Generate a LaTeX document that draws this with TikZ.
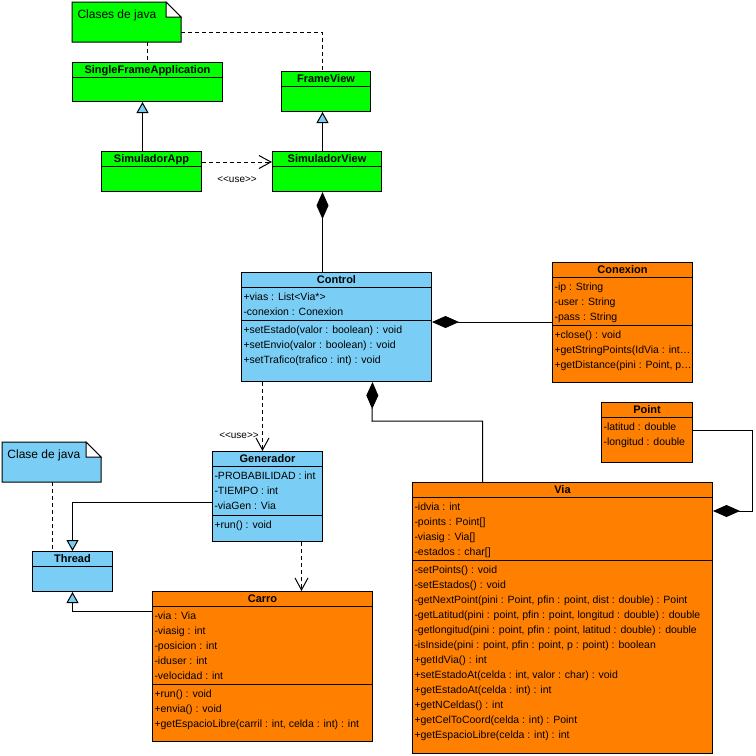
\documentclass[tikz,border=0pt]{standalone}
\usepackage{fontspec}
\setmainfont{Liberation Sans}
\usetikzlibrary{calc,positioning,arrows.meta}

\definecolor{umlgreen}{RGB}{0,255,0}
\definecolor{umlblue}{RGB}{122,206,245}
\definecolor{umlorange}{RGB}{255,128,0}

\tikzset{
  classbox/.style={draw, rectangle, anchor=north west, inner sep=0pt},
  classtitle/.style={font=\fontsize{11}{13}\selectfont\bfseries, inner sep=0pt, text height=8pt, text depth=0pt},
  members/.style={font=\fontsize{10.5}{15}\selectfont, align=left, anchor=north west, inner sep=0pt},
  notebox/.style={rectangle, anchor=north west, inner sep=0pt},
  notetext/.style={font=\fontsize{12}{14}\selectfont, anchor=west, inner sep=0pt},
  stereo/.style={font=\fontsize{10}{12}\selectfont, inner sep=0pt},
  notelink/.style={dash pattern=on 4pt off 3pt},
  inherit/.style={-{Triangle[width=12pt,length=11pt,fill=umlblue]}},
  usedep/.style={dash pattern=on 4pt off 3pt, -{Straight Barb[width=13pt,length=12pt]}},
  compos/.style={{Diamond[width=12pt,length=27pt]}-},
}

% name, position, width, height, fill, text
\newcommand{\umlnote}[6]{%
  \node[notebox, minimum width=#3, minimum height=#4] (#1) at (#2) {};
  \draw[fill=#5] (#1.north west) -- ([xshift=-15pt]#1.north east) -- ([yshift=-15pt]#1.north east)
    -- (#1.south east) -- (#1.south west) -- cycle;
  \draw[fill=white] ([xshift=-15pt]#1.north east) -- ([shift={(-15pt,-15pt)}]#1.north east)
    -- ([yshift=-15pt]#1.north east) -- cycle;
  \node[notetext] (#1-text) at ([shift={(5pt,-13pt)}]#1.north west) {#6};
}
% name, position, width, height, fill, title
\newcommand{\emptyclass}[6]{%
  \node[classbox, fill=#5, minimum width=#3, minimum height=#4] (#1) at (#2) {};
  \node[classtitle] (#1-name) at ([yshift=-7.5pt]#1.north) {#6};
  \draw ([yshift=-15pt]#1.north west) -- ([yshift=-15pt]#1.north east);
}
% name, position, width, height, fill, title, separator, attributes, operations
\newcommand{\umlclass}[9]{%
  \emptyclass{#1}{#2}{#3}{#4}{#5}{#6}
  \node[members] (#1-attr) at ([shift={(2pt,-17pt)}]#1.north west) {\strut#8};
  \draw ([yshift=-#7]#1.north west) -- ([yshift=-#7]#1.north east);
  \node[members] (#1-ops) at ([shift={(2pt,-#7-2pt)}]#1.north west) {\strut#9};
}

\begin{document}
\begin{tikzpicture}[x=1pt, y=-1pt, line width=1pt]
\useasboundingbox (0,0) rectangle (756,756);

% top: java frame classes
\umlnote{java1}{72,2}{108pt}{39pt}{umlgreen}{Clases de java}
\emptyclass{sfa}{72,62}{150pt}{39pt}{umlgreen}{SingleFrameApplication}
\emptyclass{frameview}{281,71}{89pt}{40pt}{umlgreen}{FrameView}
\emptyclass{simapp}{101,151}{100pt}{40pt}{umlgreen}{SimuladorApp}
\emptyclass{simview}{272,151}{109pt}{40pt}{umlgreen}{SimuladorView}

% middle
\umlclass{control}{241,272}{190pt}{109pt}{umlblue}{Control}{48pt}
  {+vias : List<Via*>\\-conexion : Conexion}
  {+setEstado(valor : boolean) : void\\+setEnvio(valor : boolean) : void\\+setTrafico(trafico : int) : void}
\umlclass{conexion}{552,262}{140pt}{120pt}{umlorange}{Conexion}{63pt}
  {-ip : String\\-user : String\\-pass : String}
  {+close() : void\\+getStringPoints(IdVia : int…\\+getDistance(pini : Point, p…}

% bottom left: threads
\umlnote{java2}{2,442}{98pt}{39pt}{umlblue}{Clase de java}
\umlclass{generador}{212,451}{110pt}{90pt}{umlblue}{Generador}{64pt}
  {-PROBABILIDAD : int\\-TIEMPO : int\\-viaGen : Via}
  {+run() : void}
\emptyclass{thread}{32,551}{80pt}{40pt}{umlblue}{Thread}
\umlclass{carro}{152,591}{220pt}{150pt}{umlorange}{Carro}{93pt}
  {-via : Via\\-viasig : int\\-posicion : int\\-iduser : int\\-velocidad : int}
  {+run() : void\\+envia() : void\\+getEspacioLibre(carril : int, celda : int) : int}

% bottom right: roads
\emptyclass{point}{601,402}{91pt}{60pt}{umlorange}{Point}
\node[members] (point-attr) at ([shift={(2pt,-17pt)}]point.north west) {\strut-latitud : double\\-longitud : double};
\umlclass{via}{412,482}{300pt}{271pt}{umlorange}{Via}{78pt}
  {-idvia : int\\-points : Point[]\\-viasig : Via[]\\-estados : char[]}
  {-setPoints() : void\\-setEstados() : void\\-getNextPoint(pini : Point, pfin : point, dist : double) : Point\\-getLatitud(pini : point, pfin : point, longitud : double) : double\\-getlongitud(pini : point, pfin : point, latitud : double) : double\\-isInside(pini : point, pfin : point, p : point) : boolean\\+getIdVia() : int\\+setEstadoAt(celda : int, valor : char) : void\\+getEstadoAt(celda : int) : int\\+getNCeldas() : int\\+getCelToCoord(celda : int) : Point\\+getEspacioLibre(celda : int) : int}

% connectors
\draw[notelink] (sfa.north |- java1.south) -- (sfa.north);
\draw[notelink] ([yshift=-30pt]java1.north east) -| ([xshift=-3.5pt]frameview.north);
\draw[inherit] ([xshift=-9pt]simapp.north) -- ([xshift=-9pt]simapp.north |- sfa.south);
\draw[inherit] ([xshift=-4.5pt]simview.north) -- ([xshift=-4.5pt]simview.north |- frameview.south);
\draw[usedep] ([yshift=-11pt]simapp.north east) -- ([yshift=-11pt]simapp.north east -| simview.west);
\node[stereo] (use1) at (237,180) {{<}{<}use{>}{>}};
\draw[compos] ([xshift=-4.5pt]simview.south) -- ([xshift=-4.5pt]simview.south |- control.north);
\draw[compos] ([yshift=-50pt]control.north east) -- ([yshift=-50pt]control.north east -| conexion.west);
\coordinate (cbend) at (372,421);
\draw[compos] ([xshift=36pt]control.south) -- (cbend) -| ([xshift=-80pt]via.north);
\draw[usedep] ([xshift=-74pt]control.south) -- ([xshift=-74pt]control.south |- generador.north);
\node[stereo] (use2) at (239,436) {{<}{<}use{>}{>}};
\draw[notelink] ([xshift=-20pt]thread.north |- java2.south) -- ([xshift=-20pt]thread.north);
\draw[inherit] ([yshift=-51pt]generador.north west) -| (thread.north);
\draw[inherit] ([yshift=-20pt]carro.north west) -| (thread.south);
\draw[usedep] ([xshift=34pt]generador.south) -- ([xshift=34pt]generador.south |- carro.north);
\coordinate (pbend) at (752,511);
\draw[compos] ([yshift=-29pt]via.north east) -- (pbend) |- ([yshift=-28pt]point.north east);
\end{tikzpicture}
\end{document}
